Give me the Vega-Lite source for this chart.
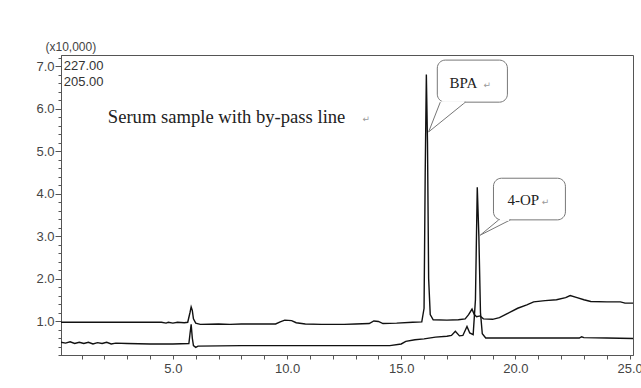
{
  "$schema": "https://vega.github.io/schema/vega-lite/v6.json",
  "width": 572,
  "height": 300,
  "autosize": {"type": "none"},
  "padding": {"left": 61, "top": 55, "right": 8, "bottom": 33},
  "background": "white",
  "config": {
    "view": {"stroke": "#555", "strokeWidth": 1},
    "axis": {"domainColor": "#555", "tickColor": "#555", "labelFont": "Liberation Sans", "labelFontSize": 13, "labelColor": "#444", "grid": false}
  },
  "datasets": {
    "trace": [
      {"t": 0.1, "v": 0.97, "ch": "227.00"}, {"t": 4.5, "v": 0.97, "ch": "227.00"}, {"t": 4.7, "v": 0.95, "ch": "227.00"}, {"t": 4.8, "v": 0.97, "ch": "227.00"}, {"t": 5.0, "v": 0.95, "ch": "227.00"}, {"t": 5.2, "v": 0.97, "ch": "227.00"}, {"t": 5.5, "v": 0.96, "ch": "227.00"}, {"t": 5.65, "v": 0.97, "ch": "227.00"}, {"t": 5.75, "v": 1.2, "ch": "227.00"}, {"t": 5.8, "v": 1.33, "ch": "227.00"}, {"t": 5.85, "v": 1.25, "ch": "227.00"}, {"t": 5.9, "v": 1.05, "ch": "227.00"}, {"t": 6.0, "v": 0.95, "ch": "227.00"}, {"t": 6.2, "v": 0.92, "ch": "227.00"}, {"t": 7.0, "v": 0.93, "ch": "227.00"}, {"t": 7.5, "v": 0.92, "ch": "227.00"}, {"t": 8.0, "v": 0.93, "ch": "227.00"}, {"t": 9.5, "v": 0.93, "ch": "227.00"}, {"t": 9.7, "v": 0.98, "ch": "227.00"}, {"t": 9.9, "v": 1.02, "ch": "227.00"}, {"t": 10.2, "v": 1.01, "ch": "227.00"}, {"t": 10.4, "v": 0.96, "ch": "227.00"}, {"t": 10.8, "v": 0.93, "ch": "227.00"}, {"t": 11.5, "v": 0.92, "ch": "227.00"}, {"t": 12.5, "v": 0.92, "ch": "227.00"}, {"t": 13.0, "v": 0.93, "ch": "227.00"}, {"t": 13.6, "v": 0.94, "ch": "227.00"}, {"t": 13.8, "v": 1.0, "ch": "227.00"}, {"t": 14.0, "v": 0.99, "ch": "227.00"}, {"t": 14.2, "v": 0.94, "ch": "227.00"}, {"t": 14.8, "v": 0.95, "ch": "227.00"}, {"t": 15.5, "v": 0.97, "ch": "227.00"}, {"t": 15.9, "v": 0.98, "ch": "227.00"}, {"t": 16.0, "v": 1.3, "ch": "227.00"}, {"t": 16.05, "v": 4.5, "ch": "227.00"}, {"t": 16.1, "v": 6.8, "ch": "227.00"}, {"t": 16.15, "v": 5.2, "ch": "227.00"}, {"t": 16.2, "v": 2.0, "ch": "227.00"}, {"t": 16.27, "v": 1.15, "ch": "227.00"}, {"t": 16.4, "v": 1.03, "ch": "227.00"}, {"t": 17.0, "v": 1.02, "ch": "227.00"}, {"t": 17.5, "v": 1.03, "ch": "227.00"}, {"t": 17.8, "v": 1.05, "ch": "227.00"}, {"t": 17.95, "v": 1.15, "ch": "227.00"}, {"t": 18.1, "v": 1.28, "ch": "227.00"}, {"t": 18.2, "v": 1.15, "ch": "227.00"}, {"t": 18.3, "v": 1.1, "ch": "227.00"}, {"t": 18.45, "v": 1.12, "ch": "227.00"}, {"t": 18.6, "v": 1.05, "ch": "227.00"}, {"t": 19.0, "v": 1.04, "ch": "227.00"}, {"t": 19.3, "v": 1.08, "ch": "227.00"}, {"t": 19.6, "v": 1.16, "ch": "227.00"}, {"t": 20.1, "v": 1.3, "ch": "227.00"}, {"t": 20.5, "v": 1.38, "ch": "227.00"}, {"t": 20.8, "v": 1.45, "ch": "227.00"}, {"t": 21.3, "v": 1.48, "ch": "227.00"}, {"t": 21.8, "v": 1.5, "ch": "227.00"}, {"t": 22.2, "v": 1.55, "ch": "227.00"}, {"t": 22.4, "v": 1.6, "ch": "227.00"}, {"t": 22.7, "v": 1.55, "ch": "227.00"}, {"t": 23.0, "v": 1.5, "ch": "227.00"}, {"t": 23.3, "v": 1.46, "ch": "227.00"}, {"t": 24.0, "v": 1.45, "ch": "227.00"}, {"t": 24.6, "v": 1.45, "ch": "227.00"}, {"t": 24.8, "v": 1.42, "ch": "227.00"}, {"t": 25.15, "v": 1.42, "ch": "227.00"},
      {"t": 0.1, "v": 0.5, "ch": "205.00"}, {"t": 0.3, "v": 0.48, "ch": "205.00"}, {"t": 0.5, "v": 0.51, "ch": "205.00"}, {"t": 0.7, "v": 0.47, "ch": "205.00"}, {"t": 0.9, "v": 0.5, "ch": "205.00"}, {"t": 1.1, "v": 0.47, "ch": "205.00"}, {"t": 1.3, "v": 0.5, "ch": "205.00"}, {"t": 1.5, "v": 0.46, "ch": "205.00"}, {"t": 1.7, "v": 0.49, "ch": "205.00"}, {"t": 1.9, "v": 0.47, "ch": "205.00"}, {"t": 2.1, "v": 0.5, "ch": "205.00"}, {"t": 2.3, "v": 0.46, "ch": "205.00"}, {"t": 2.5, "v": 0.48, "ch": "205.00"}, {"t": 3.0, "v": 0.47, "ch": "205.00"}, {"t": 4.0, "v": 0.46, "ch": "205.00"}, {"t": 5.0, "v": 0.46, "ch": "205.00"}, {"t": 5.7, "v": 0.47, "ch": "205.00"}, {"t": 5.75, "v": 0.7, "ch": "205.00"}, {"t": 5.8, "v": 0.92, "ch": "205.00"}, {"t": 5.85, "v": 0.6, "ch": "205.00"}, {"t": 5.9, "v": 0.42, "ch": "205.00"}, {"t": 6.0, "v": 0.38, "ch": "205.00"}, {"t": 6.1, "v": 0.41, "ch": "205.00"}, {"t": 8.0, "v": 0.42, "ch": "205.00"}, {"t": 11.0, "v": 0.42, "ch": "205.00"}, {"t": 14.5, "v": 0.42, "ch": "205.00"}, {"t": 15.0, "v": 0.46, "ch": "205.00"}, {"t": 15.2, "v": 0.52, "ch": "205.00"}, {"t": 15.6, "v": 0.56, "ch": "205.00"}, {"t": 16.0, "v": 0.58, "ch": "205.00"}, {"t": 16.5, "v": 0.62, "ch": "205.00"}, {"t": 17.0, "v": 0.64, "ch": "205.00"}, {"t": 17.2, "v": 0.66, "ch": "205.00"}, {"t": 17.37, "v": 0.76, "ch": "205.00"}, {"t": 17.55, "v": 0.65, "ch": "205.00"}, {"t": 17.7, "v": 0.66, "ch": "205.00"}, {"t": 17.88, "v": 0.87, "ch": "205.00"}, {"t": 18.0, "v": 0.72, "ch": "205.00"}, {"t": 18.15, "v": 0.68, "ch": "205.00"}, {"t": 18.25, "v": 1.5, "ch": "205.00"}, {"t": 18.33, "v": 4.15, "ch": "205.00"}, {"t": 18.4, "v": 3.0, "ch": "205.00"}, {"t": 18.47, "v": 1.2, "ch": "205.00"}, {"t": 18.55, "v": 0.7, "ch": "205.00"}, {"t": 18.7, "v": 0.6, "ch": "205.00"}, {"t": 20.0, "v": 0.6, "ch": "205.00"}, {"t": 22.0, "v": 0.6, "ch": "205.00"}, {"t": 22.8, "v": 0.6, "ch": "205.00"}, {"t": 22.9, "v": 0.63, "ch": "205.00"}, {"t": 23.0, "v": 0.61, "ch": "205.00"}, {"t": 24.0, "v": 0.6, "ch": "205.00"}, {"t": 25.15, "v": 0.59, "ch": "205.00"}
    ],
    "chlabels": [
      {"t": 0.22, "v": 7.0, "txt": "227.00"},
      {"t": 0.22, "v": 6.62, "txt": "205.00"}
    ],
    "boxes": [
      {"name": "BPA", "t": 16.58, "t2": 19.65, "v": 6.15, "v2": 7.14},
      {"name": "4-OP", "t": 19.04, "t2": 22.19, "v": 3.38, "v2": 4.36}
    ],
    "pointers": [
      {"name": "BPA", "i": 0, "t": 16.71, "v": 6.15},
      {"name": "BPA", "i": 1, "t": 16.2, "v": 5.45},
      {"name": "BPA", "i": 2, "t": 17.81, "v": 6.15},
      {"name": "4-OP", "i": 0, "t": 19.27, "v": 3.38},
      {"name": "4-OP", "i": 1, "t": 18.46, "v": 3.02},
      {"name": "4-OP", "i": 2, "t": 19.78, "v": 3.38}
    ],
    "covers": [
      {"t": 16.76, "t2": 17.76, "v": 6.15},
      {"t": 19.32, "t2": 19.73, "v": 3.38}
    ],
    "notes": [
      {"t": 2.15, "v": 5.8, "txt": "Serum sample with by-pass line", "size": 18.6},
      {"t": 17.11, "v": 6.6, "txt": "BPA", "size": 15},
      {"t": 19.65, "v": 3.85, "txt": "4-OP", "size": 15}
    ],
    "marks": [
      {"t": 13.3, "v": 5.76},
      {"t": 18.6, "v": 6.55},
      {"t": 21.15, "v": 3.8}
    ]
  },
  "encoding": {
    "x": {"field": "t", "type": "quantitative", "scale": {"domain": [0.1, 25.15], "nice": false, "zero": false},
      "axis": {"title": null, "values": [1,2,3,4,5,6,7,8,9,10,11,12,13,14,15,16,17,18,19,20,21,22,23,24,25],
        "labelExpr": "datum.value % 5 === 0 ? format(datum.value, '.1f') : ''", "tickSize": 4, "labelPadding": 3, "labelOverlap": false, "labelFlush": false, "labelBound": false}},
    "y": {"field": "v", "type": "quantitative", "scale": {"domain": [0.2, 7.26], "nice": false, "zero": false},
      "axis": {"title": "(x10,000)", "titleAngle": 0, "titleAlign": "left", "titleBaseline": "middle", "titleX": -16, "titleY": -9, "titleFont": "Liberation Sans", "titleFontSize": 12, "titleFontWeight": "normal", "titleColor": "#444",
        "values": [0.2,0.4,0.6,0.8,1,1.2,1.4,1.6,1.8,2,2.2,2.4,2.6,2.8,3,3.2,3.4,3.6,3.8,4,4.2,4.4,4.6,4.8,5,5.2,5.4,5.6,5.8,6,6.2,6.4,6.6,6.8,7,7.2],
        "labelExpr": "datum.value % 1 === 0 ? format(datum.value, '.1f') : ''",
        "tickSize": {"condition": {"test": "datum.value % 1 === 0", "value": 6}, "value": 3},
        "labelPadding": 1, "labelOverlap": false}}
  },
  "layer": [
    {
      "data": {"name": "trace"},
      "mark": {"type": "line", "color": "#111", "strokeWidth": 1.4, "clip": true},
      "encoding": {
        "detail": {"field": "ch"},
        "order": {"field": "t", "type": "quantitative"}
      }
    },
    {
      "data": {"name": "chlabels"},
      "mark": {"type": "text", "align": "left", "baseline": "middle", "font": "Liberation Sans", "fontSize": 13, "color": "#333"},
      "encoding": {"text": {"field": "txt"}}
    },
    {
      "data": {"name": "boxes"},
      "mark": {"type": "rect", "fill": "white", "stroke": "#777", "strokeWidth": 1, "cornerRadius": 8},
      "encoding": {"x2": {"field": "t2"}, "y2": {"field": "v2"}}
    },
    {
      "data": {"name": "pointers"},
      "mark": {"type": "line", "color": "#777", "strokeWidth": 1},
      "encoding": {"detail": {"field": "name"}, "order": {"field": "i", "type": "quantitative"}}
    },
    {
      "data": {"name": "covers"},
      "mark": {"type": "rule", "color": "white", "strokeWidth": 2},
      "encoding": {"x2": {"field": "t2"}}
    },
    {
      "data": {"name": "notes"},
      "mark": {"type": "text", "align": "left", "baseline": "middle", "font": "Liberation Serif", "color": "#222"},
      "encoding": {"text": {"field": "txt"}, "size": {"field": "size", "type": "quantitative", "scale": null}}
    },
    {
      "data": {"name": "marks"},
      "mark": {"type": "text", "align": "left", "baseline": "middle", "font": "DejaVu Sans", "fontSize": 9, "color": "#999", "text": "↵"},
      "encoding": {}
    }
  ]
}
